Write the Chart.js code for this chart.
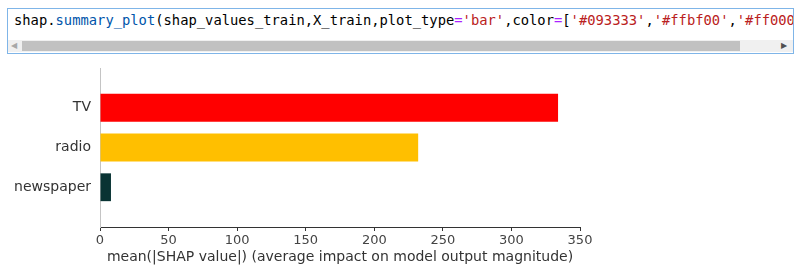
<!DOCTYPE html>
<html>
<head>
<meta charset="utf-8">
<script src="https://cdn.jsdelivr.net/npm/chart.js@4"></script>
<style>
    html, body { margin: 0; padding: 0; background: #fff; }
    body { width: 800px; height: 276px; position: relative; overflow: hidden; }
    #chart { position: absolute; left: 0; top: 0; }
    .cell {
        position: absolute; left: 7px; top: 8px; width: 785px; height: 44px;
        border: 1px solid #7fb5e8; overflow: hidden; background: #fff;
    }
    .code {
        position: absolute; left: 6px; top: 3px; white-space: pre;
        font-family: "DejaVu Sans Mono", monospace; font-size: 13.8px; line-height: 17px; color: #000;
    }
    .prop { color: #0055aa; }
    .op { color: #aa22ff; }
    .str { color: #ba2121; }
    .scroll { position: absolute; left: 0; top: 31px; width: 785px; height: 12px; background: #f0f0f0; }
    .thumb { position: absolute; left: 14px; top: 1px; width: 718px; height: 10px; background: #c1c1c1; }
    .arr { position: absolute; top: 0; font-size: 8px; line-height: 12px; font-family: "DejaVu Sans"; }
</style>
</head>
<body>
<canvas id="chart" width="800" height="276"></canvas>
<div class="cell">
    <div class="code">shap.<span class="prop">summary_plot</span>(shap_values_train,X_train,plot_type<span class="op">=</span><span class="str">'bar'</span>,color<span class="op">=</span>[<span class="str">'#093333'</span>,<span class="str">'#ffbf00'</span>,<span class="str">'#ff0000'</span>])</div>
    <div class="scroll">
        <div class="thumb"></div>
        <span class="arr" style="left:3px;color:#a8a8a8">&#9664;</span>
        <span class="arr" style="left:773px;color:#505050">&#9654;</span>
    </div>
</div>
<script>
// feature importance, top to bottom
var features = ["TV", "radio", "newspaper"];
var meanShap = [334, 232, 8];
var barColors = ["#ff0000", "#ffbf00", "#093333"];
var xTicks = [0, 50, 100, 150, 200, 250, 300, 350];

Chart.defaults.font.family = "DejaVu Sans";

var ctx = document.getElementById("chart").getContext("2d");

var points = meanShap.map(function (v, i) {
    return { x: v, y: i };
});

new Chart(ctx, {
    type: "bar",
    data: {
        datasets: [
            {
                data: points,
                backgroundColor: barColors,
                borderWidth: 0,
                barPercentage: 0.7,
                categoryPercentage: 1,
            },
        ],
    },
    options: {
        indexAxis: "y",
        responsive: false,
        animation: false,
        layout: { padding: { top: 68, right: 220, left: 0, bottom: 0 } },
        plugins: { legend: { display: false }, tooltip: { enabled: false } },
        scales: {
            x: {
                type: "linear",
                min: xTicks[0],
                max: xTicks[xTicks.length - 1],
                afterBuildTicks: function (scale) {
                    scale.ticks = xTicks.map(function (v) { return { value: v }; });
                },
                afterFit: function (scale) { scale.height = 49; },
                grid: { drawOnChartArea: false, tickLength: 4, color: "#333" },
                border: { display: true, color: "#333", width: 1 },
                ticks: { color: "#444", font: { size: 13 }, padding: 2, maxRotation: 0 },
                title: {
                    display: true,
                    text: "mean(|SHAP value|) (average impact on model output magnitude)",
                    color: "#333",
                    font: { size: 14 },
                    padding: { top: 0, bottom: 10 },
                },
            },
            y: {
                type: "linear",
                offset: false,
                min: -1,
                max: features.length,
                reverse: true,
                afterBuildTicks: function (scale) {
                    scale.ticks = features.map(function (f, i) { return { value: i }; });
                },
                afterFit: function (scale) { scale.width = 100; },
                grid: { display: false, offset: false, drawTicks: false },
                border: { display: true, color: "#c4c4c4", width: 1 },
                ticks: {
                    color: "#333",
                    font: { size: 14 },
                    padding: 9,
                    callback: function (v) { return features[v]; },
                },
            },
        },
    },
});
</script>
</body>
</html>
